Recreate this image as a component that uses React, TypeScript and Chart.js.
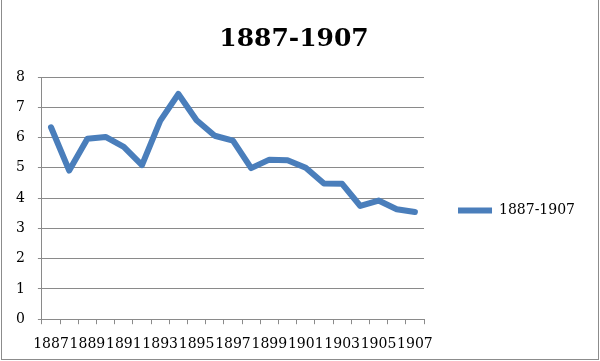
import React, { useEffect, useRef } from "react";
import { Chart, registerables } from "chart.js";

Chart.register(...registerables);

const TITLE = "1887-1907";
const SERIES_NAME = "1887-1907";
const YEARS = [
  "1887", "1888", "1889", "1890", "1891", "1892", "1893", "1894", "1895", "1896",
  "1897", "1898", "1899", "1900", "1901", "1902", "1903", "1904", "1905", "1906", "1907",
];
const VALUES = [
  6.34, 4.91, 5.96, 6.02, 5.69, 5.09, 6.55, 7.44, 6.57, 6.06,
  5.9, 4.99, 5.27, 5.25, 5.0, 4.48, 4.47, 3.74, 3.92, 3.63, 3.54,
];
const Y_MIN = 0;
const Y_MAX = 8;
const Y_STEP = 1;

const GRID = "#8a8a8a";
const LINE = "#4a7ebb";
const FONT = "'DejaVu Serif', serif";

export default function App() {
  const ref = useRef<HTMLCanvasElement | null>(null);

  useEffect(() => {
    document.body.style.margin = "0";
    const canvas = ref.current;
    if (!canvas) return;
    const chart = new Chart(canvas, {
      type: "line",
      data: {
        labels: YEARS,
        datasets: [
          {
            label: SERIES_NAME,
            data: VALUES,
            borderColor: LINE,
            backgroundColor: LINE,
            borderWidth: 6,
            pointRadius: 0,
            pointHoverRadius: 0,
            tension: 0,
            borderJoinStyle: "round",
            borderCapStyle: "round",
            fill: false,
          },
        ],
      },
      options: {
        responsive: false,
        animation: false,
        devicePixelRatio: 1,
        layout: { padding: { top: 0, left: 3, right: 15, bottom: -4 } },
        plugins: {
          title: {
            display: true,
            text: TITLE,
            color: "#000",
            font: { family: FONT, size: 25, weight: "bold" },
            padding: { top: 24, bottom: 23 },
          },
          legend: {
            display: true,
            position: "right",
            fullSize: false,
            maxWidth: 220,
            title: { display: true, text: "", font: { size: 10 }, padding: { top: 6.5, bottom: 6.5 } },
            labels: {
              usePointStyle: true,
              pointStyle: "line",
              pointStyleWidth: 34,
              padding: 34,
              color: "#000",
              font: { family: FONT, size: 14 },
            },
          },
          tooltip: { enabled: false },
        },
        scales: {
          x: {
            offset: true,
            grid: {
              display: true,
              offset: true,
              drawOnChartArea: false,
              drawTicks: true,
              tickLength: 5,
              color: GRID,
            },
            border: { display: true, color: GRID, width: 1 },
            ticks: {
              autoSkip: false,
              maxRotation: 0,
              minRotation: 0,
              padding: 12,
              color: "#000",
              font: { family: FONT, size: 14 },
              callback: (_v: any, i: number) => (i % 2 === 0 ? YEARS[i] : ""),
            },
          },
          y: {
            min: Y_MIN,
            max: Y_MAX,
            grid: { color: GRID, tickLength: 4, lineWidth: 1 },
            border: { display: true, color: GRID, width: 1 },
            ticks: {
              stepSize: Y_STEP,
              padding: 13,
              color: "#000",
              font: { family: FONT, size: 14 },
            },
          },
        },
      },
    });
    return () => chart.destroy();
  }, []);

  return (
    <div style={{ position: "relative", width: 600, height: 361 }}>
      <canvas ref={ref} width={600} height={361} style={{ display: "block" }} />
      <div
        style={{
          position: "absolute",
          left: 1,
          top: 0,
          width: 598,
          height: 360,
          boxSizing: "border-box",
          borderLeft: "1px solid #8c8c8c",
          borderRight: "1px solid #8c8c8c",
          borderBottom: "1px solid #8c8c8c",
          pointerEvents: "none",
        }}
      />
    </div>
  );
}
